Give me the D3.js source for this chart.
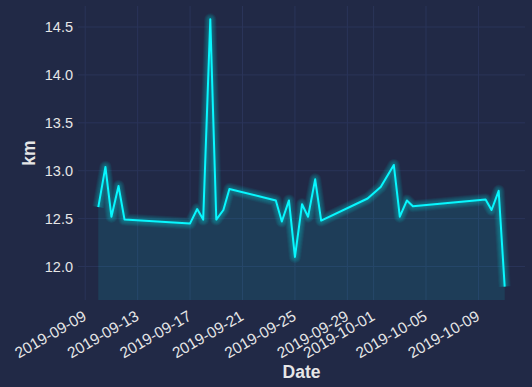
<!DOCTYPE html>
<html>
<head>
<meta charset="utf-8">
<script src="https://cdn.jsdelivr.net/npm/d3@7"></script>
<style>
  body { margin: 0; background: #212946; }
  svg { display: block; }
  text { font-family: "Liberation Sans", Arial, sans-serif; fill: #e6e6e6; }
</style>
</head>
<body>
<script>
// run log: date/time of each run and distance in km
var dates = ["2019-09-10T00:00", "2019-09-10T13:00", "2019-09-11T00:00", "2019-09-11T13:00", "2019-09-12T00:00",
    "2019-09-17T00:00", "2019-09-17T13:00", "2019-09-18T00:00", "2019-09-18T13:00", "2019-09-19T00:00",
    "2019-09-19T13:00", "2019-09-20T00:00", "2019-09-23T13:00", "2019-09-24T00:00", "2019-09-24T13:00",
    "2019-09-25T00:00", "2019-09-25T13:00", "2019-09-26T00:00", "2019-09-26T13:00", "2019-09-27T00:00",
    "2019-09-30T13:00", "2019-10-01T13:00", "2019-10-02T13:00", "2019-10-03T00:00", "2019-10-03T13:00",
    "2019-10-04T00:00", "2019-10-09T13:00", "2019-10-10T00:00", "2019-10-10T13:00", "2019-10-11T00:00"];
var km = [12.62, 13.04, 12.52, 12.84, 12.49,
    12.45, 12.60, 12.49, 14.58, 12.49,
    12.59, 12.81, 12.69, 12.47, 12.69,
    12.10, 12.65, 12.52, 12.91, 12.48,
    12.71, 12.83, 13.06, 12.52, 12.69,
    12.63, 12.70, 12.59, 12.79, 11.79];
var xTickLabels = ["2019-09-09", "2019-09-13", "2019-09-17", "2019-09-21", "2019-09-25",
    "2019-09-29", "2019-10-01", "2019-10-05", "2019-10-09"];
var yTicks = [12.0, 12.5, 13.0, 13.5, 14.0, 14.5];

var width = 532, height = 387;
var margin = {left: 78, right: 7, top: 6, bottom: 87};
var lineColor = "#08F7FE";

var parse = d3.timeParse("%Y-%m-%dT%H:%M");
var parseDay = d3.timeParse("%Y-%m-%d");
var data = dates.map(function(d, i) { return {date: parse(d), km: km[i]}; });

var svg = d3.select("body").append("svg")
    .attr("width", width)
    .attr("height", height);

// 5% margins like matplotlib
var t0 = data[0].date, t1 = data[data.length - 1].date;
var span = t1 - t0;
var xScale = d3.scaleTime()
    .domain([new Date(+t0 - span * 0.05), new Date(+t1 + span * 0.05)])
    .range([margin.left, width - margin.right]);

var yMin = d3.min(km), yMax = d3.max(km);
var yPad = (yMax - yMin) * 0.05;
var yScale = d3.scaleLinear()
    .domain([yMin - yPad, yMax + yPad])
    .range([height - margin.bottom, margin.top]);

var tickDates = xTickLabels.map(parseDay);

// grid
svg.append("g").selectAll("line")
    .data(yTicks).enter().append("line")
    .attr("x1", margin.left).attr("x2", width - margin.right)
    .attr("y1", function(d) { return yScale(d); })
    .attr("y2", function(d) { return yScale(d); })
    .attr("stroke", "#2A3459").attr("stroke-width", 1);

svg.append("g").selectAll("line")
    .data(tickDates).enter().append("line")
    .attr("y1", margin.top).attr("y2", height - margin.bottom)
    .attr("x1", function(d) { return xScale(d); })
    .attr("x2", function(d) { return xScale(d); })
    .attr("stroke", "#2A3459").attr("stroke-width", 1);

// underglow fill
var area = d3.area()
    .x(function(d) { return xScale(d.date); })
    .y0(yScale.range()[0])
    .y1(function(d) { return yScale(d.km); });

svg.append("path")
    .datum(data)
    .attr("d", area)
    .attr("fill", lineColor)
    .attr("fill-opacity", 0.1);

var line = d3.line()
    .x(function(d) { return xScale(d.date); })
    .y(function(d) { return yScale(d.km); });

// glow lines
var lw = 2;
for (var n = 1; n <= 10; n++) {
    svg.append("path")
        .datum(data)
        .attr("d", line)
        .attr("fill", "none")
        .attr("stroke", lineColor)
        .attr("stroke-width", lw + 1.05 * n)
        .attr("stroke-linejoin", "round")
        .attr("stroke-opacity", 0.035);
}

svg.append("path")
    .datum(data)
    .attr("d", line)
    .attr("fill", "none")
    .attr("stroke", lineColor)
    .attr("stroke-width", lw)
    .attr("stroke-linejoin", "round");

// y axis labels
var yAxis = d3.axisLeft(yScale)
    .tickValues(yTicks)
    .tickFormat(d3.format(".1f"))
    .tickSize(0)
    .tickPadding(5);

var gy = svg.append("g")
    .attr("transform", "translate(" + margin.left + ",0)")
    .call(yAxis);
gy.select(".domain").remove();
gy.selectAll("text")
    .style("font-size", "14.5px")
    .style("fill", "#e6e6e6");

// x axis labels, rotated
var xAxis = d3.axisBottom(xScale)
    .tickValues(tickDates)
    .tickFormat(d3.timeFormat("%Y-%m-%d"))
    .tickSize(0)
    .tickPadding(0);

var gx = svg.append("g")
    .attr("transform", "translate(0," + (height - margin.bottom) + ")")
    .call(xAxis);
gx.select(".domain").remove();
gx.selectAll("text")
    .style("font-size", "15.5px")
    .style("fill", "#e6e6e6")
    .attr("text-anchor", "end")
    .attr("dy", "0.75em")
    .attr("y", 0)
    .attr("transform", "translate(-4,9) rotate(-30)");

// axis titles
svg.append("text")
    .attr("x", (margin.left + width - margin.right) / 2)
    .attr("y", 378)
    .attr("text-anchor", "middle")
    .style("font-size", "17.5px")
    .style("font-weight", "bold")
    .text("Date");

svg.append("text")
    .attr("transform", "translate(35," + ((margin.top + height - margin.bottom) / 2) + ") rotate(-90)")
    .attr("text-anchor", "middle")
    .style("font-size", "17.5px")
    .style("font-weight", "bold")
    .text("km");
</script>
</body>
</html>
